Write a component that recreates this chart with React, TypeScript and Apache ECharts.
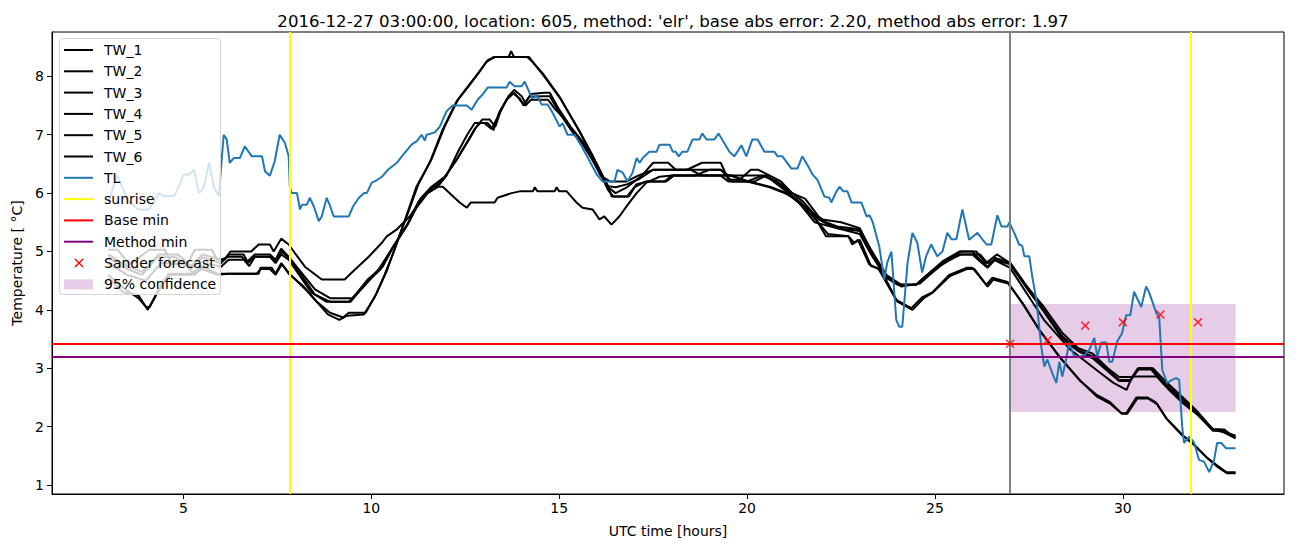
import React, { useEffect, useRef } from "react";
import * as echarts from "echarts";

type P = [number, number];

const TW_1: P[] = [[3.0,4.55],[3.4,4.3],[3.8,4.25],[4.05,4.0],[4.3,4.3],[4.6,4.62],[5.2,4.62],[5.5,4.75],[5.9,4.62],[6.2,4.62],[7.0,4.62],[7.05,4.72],[7.35,4.72],[7.45,4.62],[7.6,4.8],[7.8,4.62],[8.2,4.4],[8.5,4.17],[8.85,3.92],[9.15,3.83],[9.35,3.9],[9.8,3.92],[10.1,4.23],[10.35,4.6],[10.6,5.0],[10.9,5.55],[11.2,6.11],[11.55,6.52],[11.9,7.09],[12.25,7.55],[12.5,7.77],[12.85,8.06],[13.05,8.24],[13.25,8.33],[13.65,8.33],[13.72,8.43],[13.8,8.33],[14.15,8.33],[14.3,8.24],[14.55,8.06],[15.0,7.66],[15.5,7.1],[15.9,6.63],[16.3,6.11],[16.4,5.94],[16.8,5.94],[17.0,6.1],[17.3,6.2],[17.8,6.2],[18.0,6.3],[19.6,6.3],[20.0,6.2],[20.6,6.1],[21.0,6.0],[21.3,5.9],[21.7,5.7],[22.1,5.26],[22.7,5.26],[22.8,5.12],[22.95,5.2],[23.25,4.78],[23.5,4.7],[23.97,4.17],[24.37,4.03],[24.67,4.22],[24.93,4.3],[25.38,4.6],[25.84,4.72],[26.0,4.72],[26.37,4.43],[26.53,4.55],[26.93,4.48],[27.32,4.12],[27.78,3.66],[28.31,3.2],[28.84,2.8],[29.29,2.55],[29.64,2.43],[29.96,2.23],[30.09,2.23],[30.36,2.5],[30.65,2.5],[30.89,2.41],[31.15,2.15],[31.58,1.86],[31.85,1.72],[32.22,1.48],[32.48,1.35],[32.75,1.22],[33.0,1.22]];

const TW_2: P[] = [[3.0,4.6],[3.45,4.35],[3.8,4.2],[4.0,4.05],[4.1,4.05],[4.35,4.35],[4.65,4.6],[5.25,4.6],[5.5,4.7],[5.9,4.6],[6.2,4.62],[6.95,4.62],[7.05,4.7],[7.3,4.7],[7.45,4.6],[7.62,4.78],[7.85,4.6],[8.25,4.35],[8.55,4.14],[8.9,3.95],[9.25,3.87],[9.4,3.95],[9.85,3.95],[10.15,4.3],[10.4,4.65],[10.65,5.1],[10.95,5.62],[11.25,6.15],[11.6,6.58],[11.95,7.14],[12.3,7.6],[12.55,7.8],[12.9,8.1],[13.1,8.28],[13.3,8.33],[14.2,8.33],[14.35,8.2],[14.6,8.0],[15.05,7.6],[15.55,7.05],[15.95,6.55],[16.3,6.05],[16.45,5.94],[16.85,5.94],[17.05,6.15],[17.35,6.2],[17.85,6.2],[18.05,6.3],[19.55,6.3],[20.05,6.2],[20.65,6.1],[21.05,6.0],[21.35,5.85],[21.75,5.6],[22.15,5.3],[22.7,5.26],[22.85,5.15],[23.0,5.2],[23.3,4.75],[23.55,4.7],[24.0,4.14],[24.4,4.0],[24.7,4.2],[24.95,4.3],[25.4,4.58],[25.85,4.7],[26.05,4.7],[26.4,4.4],[26.55,4.52],[26.95,4.45],[27.35,4.1],[27.8,3.63],[28.35,3.17],[28.88,2.78],[29.3,2.52],[29.65,2.4],[29.98,2.22],[30.12,2.22],[30.38,2.48],[30.68,2.48],[30.92,2.38],[31.18,2.12],[31.6,1.84],[31.88,1.7],[32.25,1.46],[32.5,1.32],[32.78,1.2],[33.0,1.2]];

const TW_3: P[] = [[3.0,4.9],[3.5,4.7],[3.9,4.6],[4.3,4.9],[4.8,4.9],[5.2,4.7],[5.5,4.9],[6.0,4.8],[6.2,4.95],[6.6,4.95],[6.7,4.83],[6.9,4.95],[7.3,4.95],[7.45,4.86],[7.6,5.05],[7.8,4.91],[8.5,4.35],[8.9,4.2],[9.5,4.2],[9.9,4.52],[10.3,4.74],[10.6,5.1],[11.0,5.5],[11.3,5.9],[11.6,6.11],[11.95,6.28],[12.3,6.6],[12.6,6.92],[12.8,7.14],[12.95,7.26],[13.15,7.26],[13.3,7.14],[13.45,7.43],[13.65,7.66],[13.8,7.77],[14.0,7.66],[14.1,7.55],[14.25,7.7],[14.6,7.72],[14.75,7.72],[14.85,7.6],[15.0,7.43],[15.3,7.14],[15.6,6.9],[16.0,6.5],[16.3,6.1],[16.5,6.0],[16.8,6.1],[17.2,6.3],[17.5,6.52],[17.9,6.52],[18.1,6.4],[18.4,6.4],[18.8,6.52],[19.3,6.52],[19.5,6.23],[19.8,6.23],[20.1,6.4],[20.3,6.4],[20.9,6.2],[21.2,6.0],[21.55,5.9],[21.9,5.6],[22.1,5.5],[22.4,5.43],[23.0,5.38],[23.3,5.03],[23.7,4.6],[24.1,4.43],[24.5,4.43],[24.7,4.55],[25.2,4.83],[25.65,5.0],[26.0,5.0],[26.2,4.86],[26.4,4.74],[26.6,4.89],[27.0,4.81],[27.5,4.35],[27.9,4.0],[28.4,3.54],[28.8,3.32],[29.2,3.2],[29.6,2.97],[29.9,2.8],[30.2,2.8],[30.4,3.0],[30.75,3.0],[31.1,2.75],[31.6,2.46],[32.0,2.23],[32.4,1.95],[32.6,1.95],[33.0,1.83]];

const TW_4: P[] = [[3.0,4.95],[3.5,4.75],[3.9,4.65],[4.35,4.95],[4.85,4.95],[5.2,4.75],[5.5,4.95],[6.0,4.86],[6.2,4.91],[6.55,4.91],[6.7,4.8],[6.9,4.91],[7.3,4.91],[7.45,4.83],[7.62,5.0],[7.85,4.86],[8.5,4.26],[8.9,4.14],[9.45,4.14],[9.85,4.45],[10.25,4.7],[10.55,5.05],[10.95,5.45],[11.25,5.85],[11.55,6.05],[11.9,6.22],[12.25,6.55],[12.55,6.88],[12.75,7.1],[12.9,7.2],[13.1,7.2],[13.25,7.08],[13.4,7.38],[13.6,7.6],[13.75,7.72],[13.95,7.62],[14.05,7.5],[14.2,7.65],[14.55,7.66],[14.75,7.66],[14.85,7.55],[15.0,7.38],[15.3,7.1],[15.6,6.86],[16.0,6.45],[16.3,6.12],[16.5,6.1],[16.8,6.15],[17.15,6.25],[17.5,6.4],[18.0,6.4],[18.8,6.4],[19.3,6.4],[19.5,6.3],[20.1,6.3],[20.5,6.3],[20.9,6.15],[21.2,6.0],[21.5,5.85],[21.9,5.55],[22.1,5.48],[22.4,5.4],[23.0,5.35],[23.3,5.0],[23.7,4.58],[24.1,4.43],[24.5,4.43],[24.7,4.52],[25.2,4.78],[25.65,4.95],[26.0,4.95],[26.2,4.83],[26.4,4.72],[26.6,4.86],[27.0,4.78],[27.5,4.32],[27.9,3.97],[28.4,3.5],[28.8,3.3],[29.2,3.17],[29.6,2.95],[29.9,2.78],[30.2,2.78],[30.4,2.98],[30.75,2.98],[31.1,2.72],[31.6,2.43],[32.0,2.2],[32.4,1.93],[32.6,1.93],[33.0,1.8]];

const TW_5: P[] = [[3.0,4.8],[3.5,4.6],[4.0,4.5],[4.4,4.8],[5.0,4.8],[5.3,4.6],[5.6,4.8],[6.0,4.74],[6.2,4.86],[6.6,4.86],[6.75,4.75],[6.9,4.91],[7.3,4.91],[7.45,4.8],[7.6,4.95],[7.8,4.86],[8.4,4.3],[8.8,4.14],[9.4,4.14],[9.8,4.4],[10.2,4.7],[10.5,5.0],[10.9,5.4],[11.2,5.75],[11.5,6.0],[11.75,6.1],[12.0,6.3],[12.3,6.7],[12.55,7.0],[12.75,7.2],[13.0,7.2],[13.2,7.1],[13.4,7.35],[13.6,7.6],[13.8,7.72],[13.95,7.6],[14.1,7.5],[14.25,7.6],[14.7,7.6],[14.9,7.43],[15.1,7.3],[15.4,7.0],[15.7,6.8],[16.1,6.3],[16.35,6.2],[16.8,6.2],[17.1,6.3],[17.5,6.4],[18.5,6.4],[18.8,6.3],[19.3,6.3],[19.5,6.2],[20.2,6.2],[20.5,6.3],[20.9,6.1],[21.3,5.9],[21.8,5.5],[22.2,5.43],[23.0,5.3],[23.3,4.95],[23.7,4.55],[24.0,4.43],[24.5,4.43],[24.8,4.6],[25.3,4.83],[25.7,4.95],[26.2,4.95],[26.4,4.8],[26.6,4.85],[27.0,4.72],[27.9,3.83],[28.6,3.32],[29.3,2.97],[29.75,2.75],[30.1,2.63],[30.25,2.86],[30.9,2.86],[31.2,2.65],[31.6,2.4],[32.0,2.2],[32.4,1.95],[33.0,1.85]];

const TW_6: P[] = [[3.0,5.03],[3.25,5.03],[3.55,4.78],[4.1,5.03],[4.5,5.03],[4.7,4.78],[5.1,4.78],[5.3,5.03],[5.75,5.03],[5.9,4.86],[6.1,4.86],[6.25,5.0],[6.8,5.0],[7.0,5.12],[7.3,5.12],[7.4,5.0],[7.6,5.22],[7.8,5.12],[7.9,5.03],[8.23,4.74],[8.68,4.52],[9.29,4.52],[9.48,4.64],[9.93,4.91],[10.28,5.15],[10.41,5.26],[10.68,5.38],[11.02,5.6],[11.37,5.94],[11.63,6.11],[11.9,6.11],[12.0,6.05],[12.35,5.84],[12.54,5.75],[12.65,5.84],[13.28,5.84],[13.36,5.92],[13.73,6.0],[13.95,6.03],[14.3,6.03],[14.35,6.1],[14.42,6.03],[14.88,6.03],[14.93,6.1],[15.0,6.03],[15.2,6.03],[15.28,5.97],[15.46,5.84],[15.62,5.75],[15.89,5.72],[16.07,5.55],[16.2,5.6],[16.39,5.46],[16.6,5.6],[16.82,5.8],[17.06,6.0],[17.32,6.18],[17.67,6.28],[18.0,6.3],[18.6,6.3],[19.0,6.4],[19.3,6.4],[19.6,6.2],[20.0,6.2],[20.4,6.3],[20.8,6.2],[21.2,5.95],[21.6,5.72],[22.0,5.55],[22.5,5.5],[23.0,5.4],[23.3,5.0],[23.75,4.55],[24.1,4.4],[24.6,4.45],[25.2,4.8],[25.7,5.0],[26.1,5.0],[26.35,4.8],[26.65,4.95],[27.0,4.8],[27.45,4.4],[27.9,4.05],[28.4,3.6],[28.8,3.35],[29.2,3.25],[29.6,3.0],[29.9,2.85],[30.25,2.85],[30.45,3.0],[30.8,3.0],[31.1,2.8],[31.6,2.5],[32.0,2.25],[32.4,1.95],[32.7,1.95],[33.0,1.8]];

const TL: P[] = [[3.0,5.85],[3.23,6.3],[3.55,5.85],[3.8,5.72],[4.08,5.72],[4.35,6.0],[4.48,5.95],[4.75,5.95],[4.88,6.12],[5.01,6.32],[5.15,6.32],[5.28,6.4],[5.41,6.0],[5.54,6.1],[5.68,6.52],[5.81,6.1],[5.94,5.95],[6.07,7.0],[6.15,6.92],[6.23,6.52],[6.34,6.6],[6.5,6.6],[6.63,6.8],[6.82,6.63],[7.09,6.63],[7.17,6.37],[7.3,6.3],[7.43,6.55],[7.56,7.0],[7.7,6.86],[7.8,6.63],[7.83,6.1],[7.88,6.0],[8.02,6.0],[8.1,5.72],[8.15,5.8],[8.28,5.8],[8.36,5.92],[8.47,5.77],[8.6,5.52],[8.68,5.6],[8.81,5.92],[8.89,5.8],[9.0,5.6],[9.4,5.6],[9.51,5.77],[9.67,5.92],[9.8,6.0],[9.88,6.0],[10.01,6.18],[10.14,6.22],[10.28,6.28],[10.44,6.4],[10.68,6.52],[10.81,6.63],[11.07,6.83],[11.21,6.89],[11.34,7.0],[11.42,6.9],[11.47,7.0],[11.69,7.04],[11.82,7.14],[12.0,7.4],[12.16,7.5],[12.54,7.5],[12.67,7.43],[12.83,7.6],[12.96,7.69],[13.1,7.81],[13.6,7.81],[13.68,7.91],[13.81,7.83],[14.0,7.83],[14.08,7.91],[14.21,7.72],[14.29,7.62],[14.4,7.68],[14.53,7.52],[14.69,7.52],[14.82,7.38],[15.01,7.14],[15.09,7.2],[15.22,7.0],[15.41,7.0],[15.6,6.8],[16.0,6.32],[16.15,6.2],[16.47,6.2],[16.55,6.4],[16.69,6.35],[16.82,6.2],[16.95,6.35],[17.06,6.6],[17.14,6.52],[17.22,6.6],[17.4,6.71],[17.59,6.71],[17.67,6.83],[17.94,6.83],[18.02,6.71],[18.1,6.71],[18.18,6.63],[18.28,6.71],[18.41,6.71],[18.55,6.92],[18.73,6.92],[18.81,7.02],[18.92,6.92],[19.13,6.92],[19.24,7.02],[19.53,6.71],[19.66,6.63],[19.85,6.82],[19.98,6.63],[20.14,6.92],[20.28,6.92],[20.46,6.71],[20.73,6.71],[20.81,6.63],[20.94,6.63],[21.18,6.42],[21.34,6.42],[21.47,6.63],[21.66,6.42],[21.74,6.32],[21.87,6.23],[22.06,5.94],[22.19,5.92],[22.24,5.84],[22.38,6.03],[22.46,6.11],[22.56,6.03],[22.67,6.03],[22.78,5.84],[23.04,5.84],[23.18,5.6],[23.26,5.62],[23.34,5.51],[23.52,5.08],[23.65,4.52],[23.73,4.81],[23.84,5.0],[23.97,3.83],[24.05,3.71],[24.13,3.71],[24.27,4.8],[24.4,5.32],[24.53,5.15],[24.66,4.64],[24.77,4.93],[24.9,5.12],[25.06,4.92],[25.2,5.0],[25.33,5.32],[25.44,5.21],[25.57,5.21],[25.73,5.72],[25.91,5.2],[26.13,5.32],[26.37,5.12],[26.5,5.12],[26.66,5.62],[26.77,5.43],[26.93,5.43],[26.98,5.5],[27.11,5.32],[27.24,5.12],[27.32,5.1],[27.38,4.92],[27.51,4.92],[27.59,4.57],[27.7,4.17],[27.83,3.37],[27.91,3.03],[27.99,3.15],[28.12,2.92],[28.23,2.75],[28.31,3.11],[28.39,2.86],[28.49,3.15],[28.57,3.44],[28.71,3.2],[28.89,3.2],[28.97,3.22],[29.11,3.32],[29.24,3.52],[29.32,3.2],[29.43,3.44],[29.56,3.44],[29.64,3.11],[29.72,3.11],[29.85,3.46],[29.98,3.6],[30.09,3.91],[30.2,3.91],[30.3,4.31],[30.38,4.2],[30.49,4.05],[30.62,4.4],[30.7,4.3],[30.89,3.95],[30.97,3.86],[31.05,2.97],[31.18,2.75],[31.31,2.8],[31.42,2.83],[31.5,2.8],[31.58,2.0],[31.63,1.72],[31.77,1.83],[31.9,1.72],[32.03,1.43],[32.16,1.4],[32.3,1.22],[32.43,1.43],[32.51,1.72],[32.62,1.72],[32.75,1.63],[33.0,1.63]];

const sunriseTimes = [7.83, 31.8];
const forecastTime = 27;
const baseMin = 3.42;
const methodMin = 3.19;
const sanderTimes = [27, 28, 29, 30, 31, 32];
const sanderValues = [3.42, 3.48, 3.73, 3.79, 3.92, 3.79];
const confidenceTimes = [27, 33];
const confidenceBounds = [2.25, 4.1];
const xTicks = [5, 10, 15, 20, 25, 30];
const yTicks = [1, 2, 3, 4, 5, 6, 7, 8];

const twSeries: { name: string; data: P[] }[] = [
  { name: "TW_1", data: TW_1 },
  { name: "TW_2", data: TW_2 },
  { name: "TW_3", data: TW_3 },
  { name: "TW_4", data: TW_4 },
  { name: "TW_5", data: TW_5 },
  { name: "TW_6", data: TW_6 },
];

const TITLE =
  "2016-12-27 03:00:00, location: 605, method: 'elr', base abs error: 2.20, method abs error: 1.97";

const legendItems: { name: string; kind: "line" | "x" | "patch"; color: string }[] = [
  { name: "TW_1", kind: "line", color: "#000000" },
  { name: "TW_2", kind: "line", color: "#000000" },
  { name: "TW_3", kind: "line", color: "#000000" },
  { name: "TW_4", kind: "line", color: "#000000" },
  { name: "TW_5", kind: "line", color: "#000000" },
  { name: "TW_6", kind: "line", color: "#000000" },
  { name: "TL", kind: "line", color: "#1f77b4" },
  { name: "sunrise", kind: "line", color: "#ffff00" },
  { name: "Base min", kind: "line", color: "#ff0000" },
  { name: "Method min", kind: "line", color: "#800080" },
  { name: "Sander forecast", kind: "x", color: "#ff0000" },
  { name: "95% confidence", kind: "patch", color: "rgba(128,0,128,0.2)" },
];

const FONT = "DejaVu Sans";
const X_MARK = "path://M1.2,0 L5,3.8 L8.8,0 L10,1.2 L6.2,5 L10,8.8 L8.8,10 L5,6.2 L1.2,10 L0,8.8 L3.8,5 L0,1.2 Z";

export default function App() {
  const ref = useRef<HTMLDivElement>(null);
  useEffect(() => {
    if (!ref.current) return;
    const chart = echarts.init(ref.current, undefined, { renderer: "svg" });

    const legendEls: any[] = [
      {
        type: "rect",
        shape: { x: 59.5, y: 38.5, width: 161, height: 256, r: 3 },
        style: { fill: "rgba(255,255,255,0.8)", stroke: "#d6d6d6", lineWidth: 1 },
        z: 100,
      },
    ];
    legendItems.forEach((it, i) => {
      const y = 50 + i * 21.3;
      if (it.kind === "line") {
        legendEls.push({
          type: "line",
          shape: { x1: 64, y1: y, x2: 93, y2: y },
          style: { stroke: it.color, lineWidth: 2 },
          z: 101,
        });
      } else if (it.kind === "x") {
        legendEls.push({
          type: "line",
          shape: { x1: 75, y1: y - 4, x2: 83, y2: y + 4 },
          style: { stroke: it.color, lineWidth: 1.5 },
          z: 101,
        });
        legendEls.push({
          type: "line",
          shape: { x1: 75, y1: y + 4, x2: 83, y2: y - 4 },
          style: { stroke: it.color, lineWidth: 1.5 },
          z: 101,
        });
      } else {
        legendEls.push({
          type: "rect",
          shape: { x: 64, y: y - 5, width: 29, height: 10 },
          style: { fill: it.color },
          z: 101,
        });
      }
      legendEls.push({
        type: "text",
        x: 104,
        y: y,
        style: {
          text: it.name,
          fill: "#000",
          fontSize: 14,
          fontFamily: FONT,
          verticalAlign: "middle",
          align: "left",
        },
        z: 101,
      });
    });

    const series: any[] = [
      {
        name: "95% confidence",
        type: "line",
        data: [],
        z: 1,
        markArea: {
          silent: true,
          itemStyle: { color: "rgba(128,0,128,0.2)" },
          data: [
            [
              { xAxis: confidenceTimes[0], yAxis: confidenceBounds[0] },
              { xAxis: confidenceTimes[1], yAxis: confidenceBounds[1] },
            ],
          ],
        },
      },
      ...twSeries.map((s) => ({
        name: s.name,
        type: "line",
        data: s.data,
        showSymbol: false,
        symbol: "none",
        z: 2,
        lineStyle: { color: "#000", width: 2 },
      })),
      {
        name: "TL",
        type: "line",
        data: TL,
        showSymbol: false,
        symbol: "none",
        z: 3,
        lineStyle: { color: "#1f77b4", width: 2 },
      },
      {
        name: "forecast",
        type: "line",
        data: [],
        z: 4,
        markLine: {
          silent: true,
          symbol: ["none", "none"],
          label: { show: false },
          lineStyle: { color: "#808080", width: 2, type: "solid" },
          data: [{ xAxis: forecastTime }],
        },
      },
      {
        name: "sunrise",
        type: "line",
        data: [],
        z: 4,
        markLine: {
          silent: true,
          symbol: ["none", "none"],
          label: { show: false },
          lineStyle: { color: "#ffff00", width: 2, type: "solid" },
          data: sunriseTimes.map((t) => ({ xAxis: t })),
        },
      },
      {
        name: "Base min",
        type: "line",
        data: [],
        z: 4,
        markLine: {
          silent: true,
          symbol: ["none", "none"],
          label: { show: false },
          lineStyle: { color: "#ff0000", width: 2, type: "solid" },
          data: [{ yAxis: baseMin }],
        },
      },
      {
        name: "Method min",
        type: "line",
        data: [],
        z: 4,
        markLine: {
          silent: true,
          symbol: ["none", "none"],
          label: { show: false },
          lineStyle: { color: "#800080", width: 2, type: "solid" },
          data: [{ yAxis: methodMin }],
        },
      },
      {
        name: "Sander forecast",
        type: "scatter",
        data: sanderTimes.map((t, i) => [t, sanderValues[i]]),
        symbol: X_MARK,
        symbolSize: 9,
        z: 5,
        itemStyle: { color: "#ff0000" },
      },
    ];

    chart.setOption({
      animation: false,
      backgroundColor: "#ffffff",
      title: {
        text: TITLE,
        left: 668,
        top: 8,
        textAlign: "center",
        textStyle: { fontFamily: FONT, fontSize: 16.6, fontWeight: "normal", color: "#000" },
      },
      grid: {
        left: 52,
        right: 18,
        top: 32,
        bottom: 53,
        show: true,
        borderColor: "#000",
        borderWidth: 1,
        containLabel: false,
        outerBoundsMode: "none",
      },
      xAxis: {
        type: "value",
        min: 1.5,
        max: 34.29,
        name: "UTC time [hours]",
        nameLocation: "middle",
        nameGap: 30,
        nameTextStyle: { fontFamily: FONT, fontSize: 14, color: "#000" },
        splitLine: { show: false },
        axisLine: { show: true, onZero: false, lineStyle: { color: "#000", width: 1 } },
        axisTick: { show: true, length: 5, customValues: xTicks, lineStyle: { color: "#000" } },
        axisLabel: { customValues: xTicks, fontFamily: FONT, fontSize: 14, color: "#000", margin: 7 },
      },
      yAxis: {
        type: "value",
        min: 0.846,
        max: 8.76,
        name: "Temperature [ °C]",
        nameLocation: "middle",
        nameGap: 26,
        nameRotate: 90,
        nameTextStyle: { fontFamily: FONT, fontSize: 14, color: "#000" },
        splitLine: { show: false },
        axisLine: { show: true, onZero: false, lineStyle: { color: "#000", width: 1 } },
        axisTick: { show: true, length: 5, customValues: yTicks, lineStyle: { color: "#000" } },
        axisLabel: { customValues: yTicks, fontFamily: FONT, fontSize: 14, color: "#000", margin: 8 },
      },
      graphic: { elements: legendEls },
      series,
    });

    return () => chart.dispose();
  }, []);

  return (
    <div
      ref={ref}
      style={{ position: "fixed", left: 0, top: 0, width: 1302, height: 547, background: "#fff" }}
    />
  );
}
